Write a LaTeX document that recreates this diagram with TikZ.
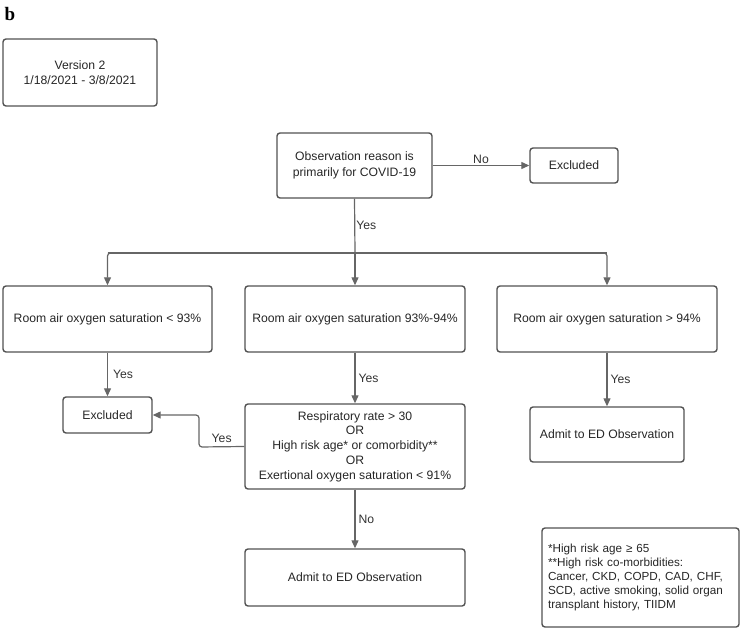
\documentclass[tikz,border=0pt]{standalone}
\usepackage{fontspec}
\setmainfont{Liberation Sans}
\newfontfamily\serifb{Liberation Serif}
\usetikzlibrary{arrows.meta}
\begin{document}
\begin{tikzpicture}[x=1pt,y=-1pt,
  box/.style={draw=black!68,line width=1.4pt,rounded corners=3pt,align=center,text=black!85,font=\fontsize{12.2}{15.6}\selectfont,inner sep=0pt},
  conn/.style={draw=black!60,line width=1.2pt,-{Triangle[length=8pt,width=7pt]}},
  plain/.style={draw=black!60,line width=1.2pt},
  lbl/.style={font=\fontsize{12.2}{15}\selectfont,text=black!80,inner sep=1pt}]
\useasboundingbox (0,0) rectangle (744,631);
\node[font=\serifb\bfseries\fontsize{19}{20}\selectfont,anchor=west] (b) at (1,14) {b};
\node[box,minimum width=154pt,minimum height=67pt] (ver) at (80,72.5) {Version 2\\1/18/2021 - 3/8/2021};
\node[box,minimum width=155pt,minimum height=65pt] (obs) at (354.5,165.5) {Observation reason is\\primarily for COVID-19};
\node[box,minimum width=88pt,minimum height=35pt] (ex1) at (574,165.5) {Excluded};
\node[box,minimum width=209pt,minimum height=66pt] (b1) at (107.5,319) {Room air oxygen saturation < 93\%};
\node[box,minimum width=220pt,minimum height=66pt] (b2) at (355,319) {Room air oxygen saturation 93\%-94\%};
\node[box,minimum width=220pt,minimum height=66pt] (b3) at (607,319) {Room air oxygen saturation > 94\%};
\node[box,minimum width=89pt,minimum height=36pt] (ex2) at (107.5,415) {Excluded};
\node[box,minimum width=220pt,minimum height=85pt,font=\fontsize{12.2}{14.7}\selectfont] (resp) at (355,446.5) {Respiratory rate > 30\\OR\\High risk age* or comorbidity**\\OR\\Exertional oxygen saturation < 91\%};
\node[box,minimum width=154pt,minimum height=55pt] (adm1) at (607,434.5) {Admit to ED Observation};
\node[box,minimum width=220pt,minimum height=57pt] (adm2) at (355,577.5) {Admit to ED Observation};
\node[box,minimum height=99pt,text width=185pt,inner xsep=6pt,align=left,font=\fontsize{11.7}{13.8}\selectfont] (note) at (640.5,577.5) {*High risk age ≥ 65\\{}**High risk co-morbidities:\\Cancer, CKD, COPD, CAD, CHF,\\SCD, active smoking, solid organ\\transplant history, TIIDM};
\coordinate (j) at (355,253);
\coordinate (jl) at (107.5,253);
\coordinate (jr) at (607,253);
\coordinate (bend1) at (199,447);
\coordinate (bend2) at (199,415);
\draw[conn] (obs.east) -- node[lbl,above] {No} (ex1.west);
\draw[plain] (obs.south) -- node[lbl,right,pos=0.49] {Yes} (j);
\draw[plain] (jl) -- (jr);
\draw[conn,rounded corners=3pt] (j) -| (b1.north);
\draw[conn,rounded corners=3pt] (j) -| (b3.north);
\draw[conn] (j) -- (b2.north);
\draw[conn] (b1.south) -- node[lbl,right,xshift=4pt] {Yes} (ex2.north);
\draw[conn] (b2.south) -- node[lbl,right,xshift=2pt] {Yes} (resp.north);
\draw[conn] (b3.south) -- node[lbl,right,xshift=2pt] {Yes} (adm1.north);
\draw[conn,rounded corners=3pt] (resp.west) -- node[lbl,above,yshift=3pt] {Yes} (bend1) -- (bend2) -- (ex2.east);
\draw[conn] (resp.south) -- node[lbl,right,xshift=2pt] {No} (adm2.north);
\end{tikzpicture}
\end{document}
